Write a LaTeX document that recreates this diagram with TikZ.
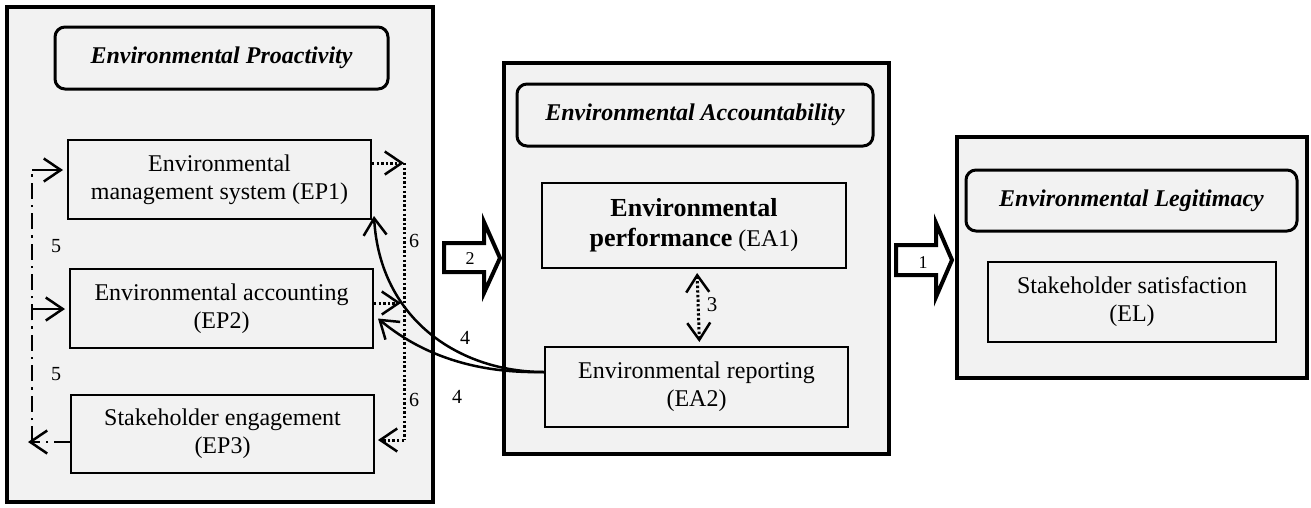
\documentclass[tikz,border=0pt]{standalone}
\usepackage{fontspec}
\setmainfont{Liberation Serif}
\usetikzlibrary{arrows.meta}
\definecolor{panel}{HTML}{F2F2F2}
\begin{document}
\begin{tikzpicture}[x=1pt,y=-1pt,
  panelbox/.style={draw, line width=4pt, fill=panel, inner sep=0pt},
  titlebox/.style={draw, line width=3pt, fill=panel, rounded corners=10pt, inner sep=0pt,
                   font=\fontsize{24}{28}\selectfont\bfseries\itshape},
  itembox/.style={draw, line width=2pt, fill=panel, inner sep=0pt, align=center,
                  font=\fontsize{24}{28}\selectfont},
  barb/.tip={Straight Barb[length=17pt,width=23pt,line width=2.5pt]},
  vtip/.style={-barb},
  dashdotline/.style={line width=2.4pt, dash pattern=on 16pt off 6pt on 2.4pt off 6pt},
  dotline/.style={line width=3pt, dash pattern=on 2.4pt off 2.2pt},
  curveline/.style={line width=2.5pt},
  blockarrow/.style={draw, line width=4pt, fill=white, line join=miter},
  numlabel/.style={inner sep=0pt, font=\fontsize{20}{24}\selectfont},
  smalllabel/.style={inner sep=0pt, font=\fontsize{18}{20}\selectfont}]

\useasboundingbox (0,0) rectangle (1311,507);

% outer panels
\node[panelbox, minimum width=426pt, minimum height=495pt] (EP) at (220,254.5) {};
\node[panelbox, minimum width=385pt, minimum height=391pt] (EA) at (696.5,258.5) {};
\node[panelbox, minimum width=350pt, minimum height=241pt] (EL) at (1132,257.5) {};

% panel titles
\node[titlebox, minimum width=333pt, minimum height=62pt] (EPt) at (221.5,58) {Environmental Proactivity};
\node[titlebox, minimum width=356pt, minimum height=62pt] (EAt) at (695,115) {Environmental Accountability};
\node[titlebox, minimum width=331pt, minimum height=61pt] (ELt) at (1131.5,200.5) {Environmental Legitimacy};

% items
\node[itembox, minimum width=303pt, minimum height=79pt] (EP1) at (219.5,179.5)
  {Environmental\\management system (EP1)};
\node[itembox, minimum width=303pt, minimum height=79pt] (EP2) at (221.5,308.5)
  {Environmental accounting\\(EP2)};
\node[itembox, minimum width=303pt, minimum height=78pt] (EP3) at (222.5,434)
  {Stakeholder engagement\\(EP3)};
\node[itembox, minimum width=304pt, minimum height=85pt, font=\fontsize{24}{30}\selectfont] (EA1) at (694,225.5)
  {\textbf{\fontsize{26}{30}\selectfont Environmental}\\\textbf{\fontsize{26}{30}\selectfont performance} (EA1)};
\node[itembox, minimum width=303pt, minimum height=80pt] (EA2) at (696.5,387)
  {Environmental reporting\\(EA2)};
\node[itembox, minimum width=288pt, minimum height=80pt] (ELs) at (1132,302)
  {Stakeholder satisfaction\\(EL)};

% links 5 (dash-dot, EP3 feeding EP1 and EP2)
\coordinate (c5t) at (32,170);
\coordinate (c5m) at (32,309);
\coordinate (c5b) at (32,442);
\draw[dashdotline, vtip, shorten >=-4pt] (EP3.west |- c5b) -- (c5b);
\draw[dashdotline] (c5b) -- (c5t);
\draw[line width=2.4pt, vtip, shorten >=4pt] (c5t) -- (EP1.west |- c5t);
\draw[line width=2.4pt, vtip, shorten >=4pt] (c5m) -- (EP2.west |- c5m);
\node[numlabel] (l5a) at (56,246) {5};
\node[numlabel] (l5b) at (56,374) {5};

% links 6 (dotted, EP1 and EP2 feeding EP3)
\coordinate (c6t) at (404,163);
\coordinate (c6m) at (404,303);
\coordinate (c6b) at (404,440);
\draw[dotline, vtip] (EP1.east |- c6t) -- (c6t);
\draw[dotline, vtip, shorten >=3pt] (EP2.east |- c6m) -- (c6m);
\draw[dotline] (c6t) -- (c6b);
\draw[dotline, vtip, shorten >=3pt] (c6b) -- (EP3.east |- c6b);
\node[numlabel] (l6a) at (414,241) {6};
\node[numlabel] (l6b) at (414,400) {6};

% links 4 (reporting back to EP1 and EP2)
\coordinate (c4) at ([yshift=15pt]EA2.west);
\draw[curveline, vtip] (c4) .. controls (460,372) and (380,320) .. ([xshift=2pt,yshift=4pt]EP1.south east);
\draw[curveline, vtip] (c4) .. controls (460,374) and (410,345) .. ([xshift=4pt,yshift=-10pt]EP2.east);
\node[numlabel] (l4a) at (465,338) {4};
\node[numlabel] (l4b) at (457,397) {4};

% link 3 (between EA1 and EA2)
\draw[dotline, barb-barb, shorten <=4pt, shorten >=4pt] ([xshift=3pt]EA1.south) -- ([xshift=3pt]EA2.north);
\node[numlabel, font=\fontsize{21}{24}\selectfont] (l3) at (712,305) {3};

% block arrow 2 (EP to EA)
\coordinate (a2) at (444,257.5);
\draw[blockarrow] (a2) ++(0,-14.5) -- ++(40,0) -- ++(0,-21) -- ++(16,36) -- ++(-16,35) -- ++(0,-21) -- ++(-40,0) -- cycle;
\node[smalllabel] (l2) at (470,259) {2};

% block arrow 1 (EA to EL)
\coordinate (a1) at (896,260);
\draw[blockarrow] (a1) ++(0,-15) -- ++(40,0) -- ++(0,-22) -- ++(16,37) -- ++(-16,37) -- ++(0,-22) -- ++(-40,0) -- cycle;
\node[smalllabel] (l1) at (923,263) {1};

\end{tikzpicture}
\end{document}
